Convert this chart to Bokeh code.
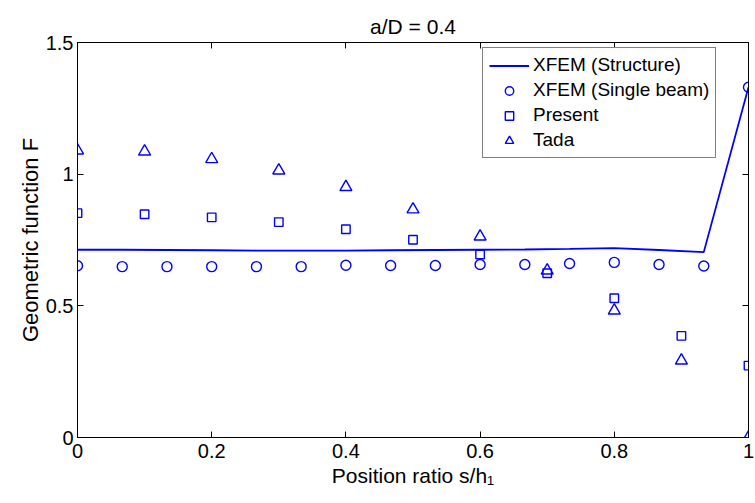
from bokeh.plotting import figure
from bokeh.models import (FixedTicker, LinearAxis, Legend, LegendItem, Range1d)
from bokeh.embed import file_html
from bokeh.resources import INLINE

# Positions along the beam (s/h1)
x_fine = [0.0, 1/15, 2/15, 3/15, 4/15, 5/15, 6/15, 7/15, 8/15, 9/15,
          10/15, 11/15, 12/15, 13/15, 14/15, 1.0]
x_coarse = [0.0, 0.1, 0.2, 0.3, 0.4, 0.5, 0.6, 0.7, 0.8, 0.9, 1.0]

# Geometric function F for each method
xfem_structure = [0.713, 0.713, 0.712, 0.711, 0.710, 0.710, 0.710, 0.711,
                  0.712, 0.713, 0.714, 0.716, 0.719, 0.712, 0.704, 1.330]
xfem_single = [0.652, 0.649, 0.649, 0.649, 0.649, 0.649, 0.654, 0.653,
               0.653, 0.657, 0.657, 0.661, 0.665, 0.657, 0.651, 1.330]
present = [0.852, 0.848, 0.836, 0.818, 0.791, 0.751, 0.695, 0.624,
           0.529, 0.386, 0.273]
tada = [1.090, 1.086, 1.057, 1.014, 0.951, 0.866, 0.763, 0.634,
        0.482, 0.292, 0.000]

x_ticks = [0.0, 0.2, 0.4, 0.6, 0.8, 1.0]
x_tick_labels = ["0", "0.2", "0.4", "0.6", "0.8", "1"]
y_ticks = [0.0, 0.5, 1.0, 1.5]
y_tick_labels = ["0", "0.5", "1", "1.5"]

FONT = "Liberation Sans"
BLUE = "#0000ff"

p = figure(width=755, height=503, output_backend="svg", toolbar_location=None,
           x_range=Range1d(0, 1), y_range=Range1d(0, 1.5),
           min_border_left=77, min_border_right=7,
           min_border_top=42, min_border_bottom=66,
           background_fill_color="white", border_fill_color="white")

p.title.text = "a/D = 0.4"
p.title.align = "center"
p.title.text_font = FONT
p.title.text_font_size = "21px"
p.title.text_font_style = "normal"
p.title.text_color = "black"
p.title.standoff = 10

p.xgrid.visible = False
p.ygrid.visible = False
p.outline_line_color = "black"
p.outline_line_width = 1
p.outline_line_alpha = 1

def style_axis(ax, ticks, labels):
    ax.ticker = FixedTicker(ticks=ticks)
    ax.major_label_overrides = {t: l for t, l in zip(ticks, labels)}
    ax.major_tick_in = 6
    ax.major_tick_out = 0
    ax.minor_tick_line_color = None
    ax.axis_line_color = "black"
    ax.major_tick_line_color = "black"
    ax.major_label_text_font = FONT
    ax.major_label_text_color = "black"
    ax.major_label_text_font_size = "20px"

style_axis(p.xaxis[0], x_ticks, x_tick_labels)
style_axis(p.yaxis[0], y_ticks, y_tick_labels)
p.xaxis[0].major_label_standoff = 6
p.yaxis[0].major_label_standoff = 4

p.xaxis[0].axis_label = "Position ratio s/h\u2081"
p.yaxis[0].axis_label = "Geometric function F"
for ax in (p.xaxis[0], p.yaxis[0]):
    ax.axis_label_text_font = FONT
    ax.axis_label_text_font_style = "normal"
    ax.axis_label_text_color = "black"
p.xaxis[0].axis_label_text_font_size = "21px"
p.yaxis[0].axis_label_text_font_size = "22px"
p.xaxis[0].axis_label_standoff = 3
p.yaxis[0].axis_label_standoff = 0

# Box ticks on the top and right edges (tick marks only, no labels)
def box_axis(ticks):
    ax = LinearAxis(ticker=FixedTicker(ticks=ticks))
    ax.major_tick_in = 6
    ax.major_tick_out = 0
    ax.minor_tick_line_color = None
    ax.axis_line_color = "black"
    ax.major_tick_line_color = "black"
    ax.major_label_text_color = None
    ax.major_label_text_font_size = "1px"
    ax.major_label_standoff = 0
    return ax

p.add_layout(box_axis(x_ticks), "above")
p.add_layout(box_axis(y_ticks), "right")

r_line = p.line(x_fine, xfem_structure, line_color=BLUE, line_width=1.8)
r_circ = p.scatter(x_fine, xfem_single, marker="circle", size=10,
                   fill_color=None, line_color=BLUE, line_width=1.4)
r_sq = p.scatter(x_coarse, present, marker="square", size=8.5,
                 fill_color=None, line_color=BLUE, line_width=1.4)
r_tri = p.scatter(x_coarse, tada, marker="triangle", size=12,
                  fill_color=None, line_color=BLUE, line_width=1.4)

legend = Legend(items=[
    LegendItem(label="XFEM (Structure)", renderers=[r_line]),
    LegendItem(label="XFEM (Single beam)", renderers=[r_circ]),
    LegendItem(label="Present", renderers=[r_sq]),
    LegendItem(label="Tada", renderers=[r_tri]),
], location=(405, 279))
legend.label_text_font = FONT
legend.label_text_font_size = "19px"
legend.label_text_color = "black"
legend.glyph_width = 40
legend.glyph_height = 21
legend.label_height = 21
legend.label_standoff = 4
legend.spacing = 3
legend.padding = 6
legend.margin = 0
legend.border_line_color = "black"
legend.border_line_width = 1
legend.background_fill_color = "white"
legend.background_fill_alpha = 1
p.add_layout(legend, "center")

open("out.html", "w").write(file_html(p, INLINE))
